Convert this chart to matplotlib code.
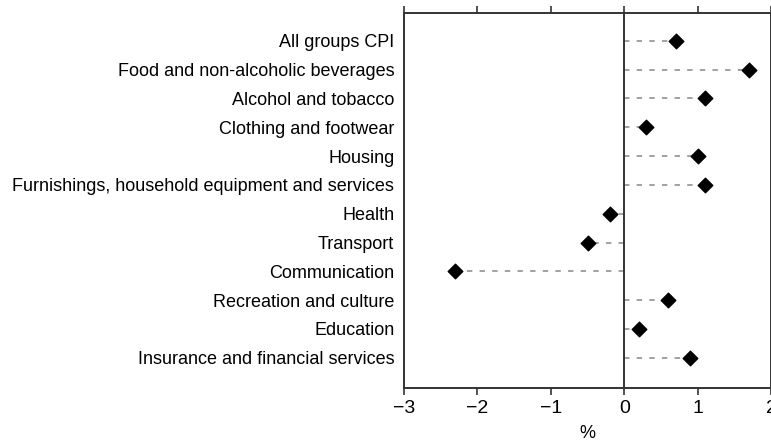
import matplotlib
matplotlib.use("Agg")
import matplotlib.pyplot as plt

# CPI groups, percentage change
categories = [
    "All groups CPI",
    "Food and non-alcoholic beverages",
    "Alcohol and tobacco",
    "Clothing and footwear",
    "Housing",
    "Furnishings, household equipment and services",
    "Health",
    "Transport",
    "Communication",
    "Recreation and culture",
    "Education",
    "Insurance and financial services",
]
values = [0.7, 1.7, 1.1, 0.3, 1.0, 1.1, -0.2, -0.5, -2.3, 0.6, 0.2, 0.9]
xticks = [-3, -2, -1, 0, 1, 2]
xtick_labels = ["\u22123", "\u22122", "\u22121", "0", "1", "2"]

plt.rcParams["font.family"] = ["Liberation Sans", "DejaVu Sans"]

fig = plt.figure(figsize=(7.71, 4.44), dpi=100)
ax = fig.add_axes([0.524, 0.126, 0.476, 0.845])

ypos = list(range(len(categories)))
for y, v in zip(ypos, values):
    ax.plot([0, v], [y, y], color="#9a9a9a", linestyle=(0, (3, 4)), linewidth=1.3, zorder=1)
ax.scatter(values, ypos, marker="D", s=55, color="black", zorder=3)
ax.axvline(0, color="#333333", linewidth=1.4, zorder=2)

ax.set_xlim(-3, 2)
ax.set_ylim(len(categories) + 0.05, -0.97)
ax.set_yticks(ypos)
ax.set_yticklabels(categories, fontsize=13)
ax.tick_params(axis="y", length=0, pad=7)
ax.set_xticks(xticks)
ax.set_xticklabels(xtick_labels, fontsize=14)
ax.tick_params(axis="x", top=True, direction="out", length=5, width=1.2, color="#333333")
ax.set_xlabel("%", fontsize=13, labelpad=6)

for s in ax.spines.values():
    s.set_color("#333333")
    s.set_linewidth(1.4)

fig.savefig("out.png", dpi=100)
